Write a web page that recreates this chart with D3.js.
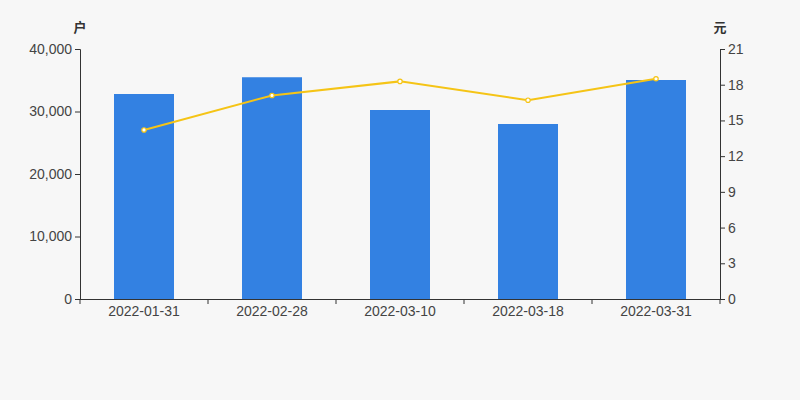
<!DOCTYPE html>
<html><head><meta charset="utf-8">
<script src="https://cdn.jsdelivr.net/npm/d3@7"></script>
<style>body{margin:0;background:#f7f7f7;}svg{display:block;font-family:Arial,"Liberation Sans","Noto Sans CJK SC",sans-serif;}</style>
</head><body><svg id="c" width="800" height="400"></svg>
<script>
const categories = ["2022-01-31","2022-02-28","2022-03-10","2022-03-18","2022-03-31"];
const holders = [32800, 35480, 30240, 28000, 35040];
const prices = [14.2, 17.1, 18.28, 16.7, 18.5];
const leftTicks = [0, 10000, 20000, 30000, 40000];
const rightTicks = [0, 3, 6, 9, 12, 15, 18, 21];

const svg = d3.select("#c");
const m = {l:80, r:720, t:49, b:299};
svg.append("rect").attr("width",800).attr("height",400).attr("fill","#f7f7f7");
const xb = d3.scaleBand().domain(categories).range([m.l, m.r]);
const yL = d3.scaleLinear().domain([0, 40000]).range([m.b, m.t]);
const yR = d3.scaleLinear().domain([0, 21]).range([m.b, m.t]);

svg.selectAll(".bar").data(holders).enter().append("rect")
  .attr("x",(d,i)=>xb(categories[i]) + xb.bandwidth()/2 - 30)
  .attr("width",60)
  .attr("y",d=>yL(d)).attr("height",d=>m.b-yL(d)).attr("fill","#3381e2");

const col = "#333";
const fmt = d3.format(",");
const gl = svg.append("g").attr("transform",`translate(${m.l},0)`)
  .call(d3.axisLeft(yL).tickValues(leftTicks).tickFormat(fmt).tickSize(5).tickPadding(3));
const gr = svg.append("g").attr("transform",`translate(${m.r},0)`)
  .call(d3.axisRight(yR).tickValues(rightTicks).tickSize(5).tickPadding(3));
const gb = svg.append("g").attr("transform",`translate(0,${m.b})`)
  .call(d3.axisBottom(xb).tickSize(0).tickPadding(7));
const bounds = categories.map(c=>xb(c)).concat([m.r]);
gb.selectAll(".bt").data(bounds).enter().append("line").attr("class","bt")
  .attr("x1",d=>d).attr("x2",d=>d).attr("y1",0).attr("y2",5).attr("stroke",col);
[gl,gr,gb].forEach(g=>{
  g.selectAll("path").attr("stroke",col).attr("stroke-width",1);
  g.selectAll(".tick line").attr("stroke",col);
  g.selectAll("text").attr("fill","#444").style("font-size","14px").style("font-family","Arial,'Liberation Sans',sans-serif");
});
gb.select("path").attr("d",`M${m.l},0.5H${m.r}`);

const line = d3.line().x((d,i)=>xb(categories[i])+xb.bandwidth()/2).y(d=>yR(d));
svg.append("path").datum(prices).attr("d",line).attr("fill","none").attr("stroke","#f5c416").attr("stroke-width",2);
svg.selectAll(".pt").data(prices).enter().append("circle")
  .attr("cx",(d,i)=>xb(categories[i])+xb.bandwidth()/2).attr("cy",d=>yR(d)).attr("r",2.2)
  .attr("fill","#fff").attr("stroke","#f5c416").attr("stroke-width",1.2);

svg.append("text").attr("x",m.l).attr("y",32).attr("text-anchor","middle").attr("fill","#333")
  .style("font-size","13px").style("font-weight","bold").text("户");
svg.append("text").attr("x",m.r).attr("y",32).attr("text-anchor","middle").attr("fill","#333")
  .style("font-size","13px").style("font-weight","bold").text("元");
</script></body></html>
